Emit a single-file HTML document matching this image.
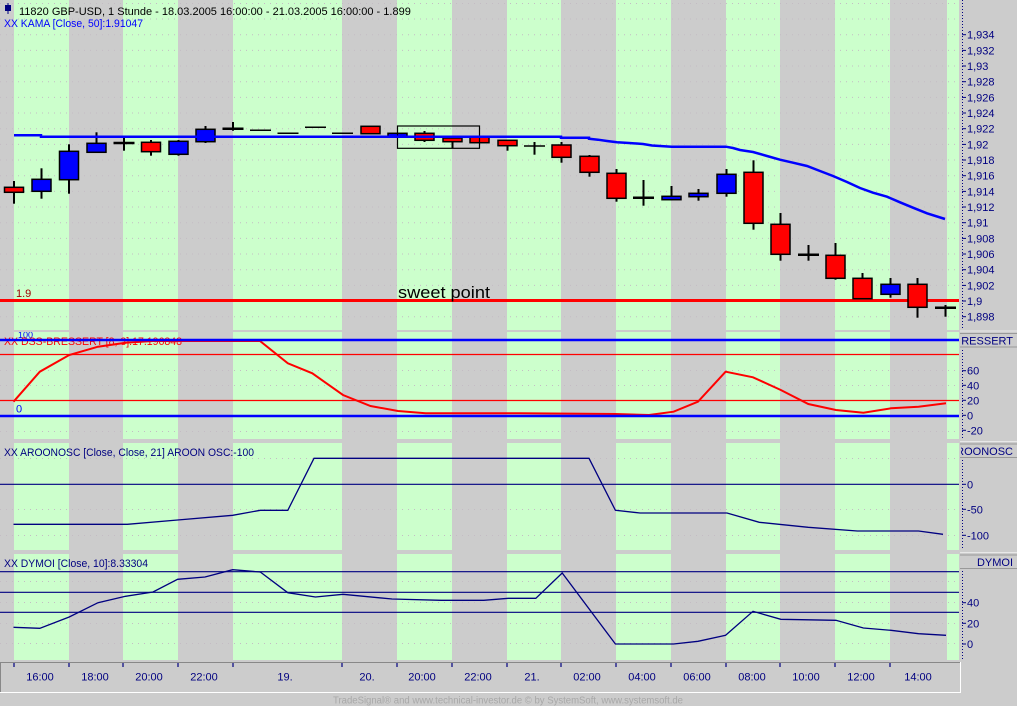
<!DOCTYPE html>
<html><head><meta charset="utf-8"><style>
html,body{margin:0;padding:0;background:#cccccc;}
svg{display:block;font-family:"Liberation Sans",Arial,sans-serif;}
</style></head><body>
<svg width="1017" height="706" viewBox="0 0 1017 706" xmlns="http://www.w3.org/2000/svg">
<defs>
<clipPath id="cMain"><rect x="0" y="0" width="959" height="330"/></clipPath>
<clipPath id="cP2"><rect x="0" y="332" width="959" height="107"/></clipPath>
<clipPath id="cP3"><rect x="0" y="443" width="959" height="107"/></clipPath>
<clipPath id="cP4"><rect x="0" y="554" width="959" height="106"/></clipPath>
<clipPath id="cRA"><rect x="961" y="0" width="56" height="706"/></clipPath>
</defs>
<rect x="0" y="0" width="1017" height="706" fill="#cccccc"/>

<!-- green bands -->
<g fill="#ccffcc">
<g id="bandsMain">
<rect x="14" y="0" width="55" height="330"/><rect x="123" y="0" width="55" height="330"/>
<rect x="233" y="0" width="109" height="330"/><rect x="397" y="0" width="55" height="330"/>
<rect x="507" y="0" width="54" height="330"/><rect x="616" y="0" width="55" height="330"/>
<rect x="726" y="0" width="54" height="330"/><rect x="835" y="0" width="55" height="330"/>
<rect x="947" y="0" width="12" height="330"/>
</g>
<g transform="translate(0,332)">
<rect x="14" y="0" width="55" height="107"/><rect x="123" y="0" width="55" height="107"/>
<rect x="233" y="0" width="109" height="107"/><rect x="397" y="0" width="55" height="107"/>
<rect x="507" y="0" width="54" height="107"/><rect x="616" y="0" width="55" height="107"/>
<rect x="726" y="0" width="54" height="107"/><rect x="835" y="0" width="55" height="107"/>
<rect x="947" y="0" width="12" height="107"/>
</g>
<g transform="translate(0,443)">
<rect x="14" y="0" width="55" height="107"/><rect x="123" y="0" width="55" height="107"/>
<rect x="233" y="0" width="109" height="107"/><rect x="397" y="0" width="55" height="107"/>
<rect x="507" y="0" width="54" height="107"/><rect x="616" y="0" width="55" height="107"/>
<rect x="726" y="0" width="54" height="107"/><rect x="835" y="0" width="55" height="107"/>
<rect x="947" y="0" width="12" height="107"/>
</g>
<g transform="translate(0,554)">
<rect x="14" y="0" width="55" height="106"/><rect x="123" y="0" width="55" height="106"/>
<rect x="233" y="0" width="109" height="106"/><rect x="397" y="0" width="55" height="106"/>
<rect x="507" y="0" width="54" height="106"/><rect x="616" y="0" width="55" height="106"/>
<rect x="726" y="0" width="54" height="106"/><rect x="835" y="0" width="55" height="106"/>
<rect x="947" y="0" width="12" height="106"/>
</g>
</g>

<!-- dotted grid -->
<g stroke="#c4bcc4" stroke-width="1" stroke-dasharray="1 5">
<line x1="0" y1="3.5" x2="959" y2="3.5"/><line x1="0" y1="19" x2="959" y2="19"/>
<line x1="0" y1="34.7" x2="959" y2="34.7"/><line x1="0" y1="50.4" x2="959" y2="50.4"/>
<line x1="0" y1="66" x2="959" y2="66"/><line x1="0" y1="81.7" x2="959" y2="81.7"/>
<line x1="0" y1="97.4" x2="959" y2="97.4"/><line x1="0" y1="113" x2="959" y2="113"/>
<line x1="0" y1="128.7" x2="959" y2="128.7"/><line x1="0" y1="144.4" x2="959" y2="144.4"/>
<line x1="0" y1="160" x2="959" y2="160"/><line x1="0" y1="175.7" x2="959" y2="175.7"/>
<line x1="0" y1="191.4" x2="959" y2="191.4"/><line x1="0" y1="207" x2="959" y2="207"/>
<line x1="0" y1="222.7" x2="959" y2="222.7"/><line x1="0" y1="238.4" x2="959" y2="238.4"/>
<line x1="0" y1="254" x2="959" y2="254"/><line x1="0" y1="269.7" x2="959" y2="269.7"/>
<line x1="0" y1="285.4" x2="959" y2="285.4"/><line x1="0" y1="316.7" x2="959" y2="316.7"/>
<line x1="0" y1="370.5" x2="959" y2="370.5"/><line x1="0" y1="385.5" x2="959" y2="385.5"/>
<line x1="0" y1="431.5" x2="959" y2="431.5"/>
<line x1="0" y1="458.5" x2="959" y2="458.5"/><line x1="0" y1="509.5" x2="959" y2="509.5"/>
<line x1="0" y1="535.5" x2="959" y2="535.5"/>
<line x1="0" y1="581.5" x2="959" y2="581.5"/><line x1="0" y1="602.5" x2="959" y2="602.5"/>
<line x1="0" y1="623.5" x2="959" y2="623.5"/><line x1="0" y1="643.5" x2="959" y2="643.5"/>
</g>

<!-- MAIN PANEL -->
<g clip-path="url(#cMain)">
<line x1="0" y1="300.5" x2="959" y2="300.5" stroke="#ff0000" stroke-width="3"/>
<text x="16" y="297" font-size="11" fill="#a00000">1.9</text>
<text x="398" y="298" font-size="17" fill="#000" textLength="92" lengthAdjust="spacingAndGlyphs">sweet point</text>

<!-- candles -->
<g stroke="#000">
<!-- wicks -->
<g stroke-width="2">
<line x1="14" y1="181" x2="14" y2="203.7"/>
<line x1="41.5" y1="168.3" x2="41.5" y2="198.7"/>
<line x1="69" y1="144.3" x2="69" y2="193.7"/>
<line x1="96.5" y1="132.3" x2="96.5" y2="152.3"/>
<line x1="124" y1="137.7" x2="124" y2="150.7"/>
<line x1="151" y1="140" x2="151" y2="155.7"/>
<line x1="178.5" y1="140" x2="178.5" y2="155.7"/>
<line x1="205.5" y1="126" x2="205.5" y2="143"/>
<line x1="233" y1="122" x2="233" y2="130.7"/>
<line x1="424.5" y1="131" x2="424.5" y2="142"/>
<line x1="452.5" y1="138" x2="452.5" y2="148"/>
<line x1="507.5" y1="140.3" x2="507.5" y2="150.7"/>
<line x1="534.5" y1="142" x2="534.5" y2="154.7"/>
<line x1="561.5" y1="142" x2="561.5" y2="162.7"/>
<line x1="589.5" y1="155" x2="589.5" y2="176.7"/>
<line x1="616.5" y1="169" x2="616.5" y2="201.7"/>
<line x1="643.5" y1="180" x2="643.5" y2="205.7"/>
<line x1="671.5" y1="186" x2="671.5" y2="200.3"/>
<line x1="698.5" y1="189" x2="698.5" y2="200.7"/>
<line x1="726.5" y1="169" x2="726.5" y2="196.7"/>
<line x1="753.5" y1="160.3" x2="753.5" y2="229.7"/>
<line x1="780.5" y1="213" x2="780.5" y2="260.7"/>
<line x1="808.5" y1="245" x2="808.5" y2="260.7"/>
<line x1="835.5" y1="243" x2="835.5" y2="279.7"/>
<line x1="862.5" y1="273" x2="862.5" y2="298.7"/>
<line x1="890.5" y1="278" x2="890.5" y2="297.7"/>
<line x1="917.5" y1="278" x2="917.5" y2="317.7"/>
<line x1="945.5" y1="305" x2="945.5" y2="316.7"/>
</g>
<!-- bodies -->
<g stroke-width="1.5">
<rect x="4.5" y="187.3" width="19" height="5" fill="#ff0000"/>
<rect x="32" y="179.3" width="19" height="12" fill="#0000ff"/>
<rect x="59.5" y="151.3" width="19" height="28.4" fill="#0000ff"/>
<rect x="87" y="143.3" width="19" height="9" fill="#0000ff"/>
<rect x="141.5" y="142.3" width="19" height="9.4" fill="#ff0000"/>
<rect x="169" y="141.3" width="19" height="13" fill="#0000ff"/>
<rect x="196" y="129.3" width="19" height="12.4" fill="#0000ff"/>
<rect x="361" y="126.3" width="19" height="7.4" fill="#ff0000"/>
<rect x="388" y="133.3" width="19" height="3.4" fill="#0000ff"/>
<rect x="415" y="133.3" width="19" height="7" fill="#ff0000"/>
<rect x="443" y="138" width="19" height="3.7" fill="#ff0000"/>
<rect x="470" y="137" width="19" height="5.7" fill="#ff0000"/>
<rect x="498" y="140.3" width="19" height="5.4" fill="#ff0000"/>
<rect x="552" y="145" width="19" height="12.3" fill="#ff0000"/>
<rect x="580" y="156.3" width="19" height="16" fill="#ff0000"/>
<rect x="607" y="173.3" width="19" height="25" fill="#ff0000"/>
<rect x="662" y="196.3" width="19" height="3.4" fill="#0000ff"/>
<rect x="689" y="193.3" width="19" height="3.4" fill="#0000ff"/>
<rect x="717" y="174.3" width="19" height="19" fill="#0000ff"/>
<rect x="744" y="172.3" width="19" height="51" fill="#ff0000"/>
<rect x="771" y="224.3" width="19" height="30" fill="#ff0000"/>
<rect x="826" y="255.3" width="19" height="23" fill="#ff0000"/>
<rect x="853" y="278.3" width="19" height="20.4" fill="#ff0000"/>
<rect x="881" y="284.3" width="19" height="10" fill="#0000ff"/>
<rect x="908" y="284.3" width="19" height="23" fill="#ff0000"/>
</g>
<!-- dojis thick -->
<g stroke-width="2.5">
<line x1="113.5" y1="143" x2="134.5" y2="143"/>
<line x1="222.5" y1="128.7" x2="243.5" y2="128.7"/>
<line x1="633" y1="197.7" x2="654" y2="197.7"/>
<line x1="798" y1="254.7" x2="819" y2="254.7"/>
<line x1="935" y1="307.7" x2="956" y2="307.7"/>
</g>
<g stroke-width="1.5">
<line x1="524" y1="146" x2="545" y2="146"/>
<line x1="250" y1="130.3" x2="271" y2="130.3"/>
<line x1="277.5" y1="133.3" x2="298.5" y2="133.3"/>
<line x1="305" y1="127.3" x2="326" y2="127.3"/>
<line x1="332" y1="133.3" x2="353" y2="133.3"/>
</g>
<rect x="397.5" y="126" width="82" height="22.3" fill="none" stroke-width="1.2"/>
</g>

<!-- KAMA -->
<polyline fill="none" stroke="#0000ff" stroke-width="2.5" points="14,135.3 41,135.3 41,136.7 561,136.7 561,137.7 589,137.7 589,138.7 598,139.7 607,141 617,142.3 629,143 643,144 652,145.5 671.7,146.7 726,146.7 733,148 740,150 753,152 767,156 780,159.7 793,162.7 807,166 820,171 833,176 847,182 860,188 873,192.7 887,196.7 900,202.3 913,207.7 927,213.3 945,219"/>

<!-- header -->
<rect x="5" y="5" width="6" height="6" fill="#000080"/>
<line x1="8" y1="3" x2="8" y2="14" stroke="#000080" stroke-width="1"/>
<text x="19" y="15" font-size="11" fill="#000">11820  GBP-USD, 1 Stunde - 18.03.2005 16:00:00 - 21.03.2005 16:00:00 - 1.899</text>
<text x="4" y="27" font-size="11" fill="#0000ff" textLength="139" lengthAdjust="spacingAndGlyphs">XX KAMA [Close, 50]:1.91047</text>
</g>

<!-- PANEL 2 DSS -->
<g clip-path="url(#cP2)">
<text x="18" y="338" font-size="9" fill="#0000ff">100</text>
<text x="4" y="345" font-size="11" fill="#ff0000" textLength="178" lengthAdjust="spacingAndGlyphs">XX DSS-BRESSERT [8, 3]:17.196848</text>
<line x1="0" y1="354.5" x2="959" y2="354.5" stroke="#ff0000" stroke-width="1.2"/>
<line x1="0" y1="400.5" x2="959" y2="400.5" stroke="#ff0000" stroke-width="1.2"/>
<text x="16" y="412.5" font-size="11" fill="#0000ff">0</text>
<polyline fill="none" stroke="#ff0000" stroke-width="2" points="13.5,401.7 39.8,371.7 69.2,355 98,346.7 125.5,342.7 153,341 205,341 260,341 287.8,363.3 312.3,373.3 343,395 370.5,406 398,411 425.6,413.3 453,413.3 520.5,413.3 615.4,414 649,415 673.6,411.7 698,401.7 725.6,371.7 753,377.3 780.8,390 808.3,404 835.9,410 863.4,412.7 891,408.3 918.5,406.7 946,403.3"/>
<line x1="0" y1="340" x2="959" y2="340" stroke="#0000ff" stroke-width="2.5"/>
<line x1="0" y1="416" x2="959" y2="416" stroke="#0000ff" stroke-width="2.5"/>
</g>

<!-- PANEL 3 AROON -->
<g clip-path="url(#cP3)">
<text x="4" y="456" font-size="11" fill="#000080" textLength="250" lengthAdjust="spacingAndGlyphs">XX AROONOSC [Close, Close, 21] AROON OSC:-100</text>
<line x1="0" y1="484.3" x2="959" y2="484.3" stroke="#000080" stroke-width="1.2"/>
<polyline fill="none" stroke="#000080" stroke-width="1.3" points="13.5,524.3 127.4,524.3 177.6,520 232.7,515.3 260.3,510.3 287.8,510.3 314,458.3 589,458.3 615.4,510.3 640,513 727,513 759.3,522.3 808.3,527.3 857.3,531 918.5,531 943,534.3"/>
</g>

<!-- PANEL 4 DYMOI -->
<g clip-path="url(#cP4)">
<text x="4" y="567" font-size="11" fill="#000080" textLength="144" lengthAdjust="spacingAndGlyphs">XX DYMOI [Close, 10]:8.33304</text>
<line x1="0" y1="571.7" x2="959" y2="571.7" stroke="#000080" stroke-width="1.2"/>
<line x1="0" y1="592.3" x2="959" y2="592.3" stroke="#000080" stroke-width="1.2"/>
<line x1="0" y1="612.3" x2="959" y2="612.3" stroke="#000080" stroke-width="1.2"/>
<polyline fill="none" stroke="#000080" stroke-width="1.3" points="13.5,627.3 39.8,628.3 69.2,617 98,602.7 125.5,596.3 153,592 177.6,579.3 205,577 232.7,569.7 260.3,572 287.8,592.7 315.4,597 343,594.3 392,599 441,600.3 483.8,600.3 508.3,598.3 535.8,598.3 562.2,573 615.4,644 673.6,644 698,641.3 725.6,635.3 753,611.3 780.8,619.3 835.9,620.3 863.4,628 891,630.3 918.5,633.7 946,635.3"/>
</g>

<!-- RIGHT AXIS -->
<g stroke="#000080" stroke-width="1" stroke-dasharray="1 2">
<line x1="962.5" y1="0" x2="962.5" y2="330"/>
<line x1="962.5" y1="350" x2="962.5" y2="439"/>
<line x1="962.5" y1="460" x2="962.5" y2="550"/>
<line x1="962.5" y1="571" x2="962.5" y2="660"/>
</g>
<g stroke="#e8e8e8" stroke-width="1">
<line x1="960" y1="331" x2="1017" y2="331"/>
<line x1="960" y1="441.5" x2="1017" y2="441.5"/>
<line x1="960" y1="552.5" x2="1017" y2="552.5"/>
</g>
<g stroke="#999" stroke-width="1">
<line x1="960" y1="333.5" x2="1017" y2="333.5"/><line x1="960" y1="347" x2="1017" y2="347"/>
<line x1="960" y1="444" x2="1017" y2="444"/><line x1="960" y1="457.5" x2="1017" y2="457.5"/>
<line x1="960" y1="555" x2="1017" y2="555"/><line x1="960" y1="568.5" x2="1017" y2="568.5"/>
</g>
<g clip-path="url(#cRA)" font-size="11" fill="#000080">
<text x="1013" y="344.5" text-anchor="end">DSS-BRESSERT</text>
<text x="1013" y="455" text-anchor="end">AROONOSC</text>
<text x="1013" y="566" text-anchor="end">DYMOI</text>
</g>
<g font-size="11" fill="#000080">
<g stroke="#000080" stroke-width="1">
<line x1="962" y1="34.7" x2="966" y2="34.7"/><line x1="962" y1="50.4" x2="966" y2="50.4"/>
<line x1="962" y1="66" x2="966" y2="66"/><line x1="962" y1="81.7" x2="966" y2="81.7"/>
<line x1="962" y1="97.4" x2="966" y2="97.4"/><line x1="962" y1="113" x2="966" y2="113"/>
<line x1="962" y1="128.7" x2="966" y2="128.7"/><line x1="962" y1="144.4" x2="966" y2="144.4"/>
<line x1="962" y1="160" x2="966" y2="160"/><line x1="962" y1="175.7" x2="966" y2="175.7"/>
<line x1="962" y1="191.4" x2="966" y2="191.4"/><line x1="962" y1="207" x2="966" y2="207"/>
<line x1="962" y1="222.7" x2="966" y2="222.7"/><line x1="962" y1="238.4" x2="966" y2="238.4"/>
<line x1="962" y1="254" x2="966" y2="254"/><line x1="962" y1="269.7" x2="966" y2="269.7"/>
<line x1="962" y1="285.4" x2="966" y2="285.4"/><line x1="962" y1="301" x2="966" y2="301"/>
<line x1="962" y1="316.7" x2="966" y2="316.7"/>
<line x1="962" y1="370.7" x2="966" y2="370.7"/><line x1="962" y1="385.3" x2="966" y2="385.3"/>
<line x1="962" y1="400.3" x2="966" y2="400.3"/><line x1="962" y1="415.3" x2="966" y2="415.3"/>
<line x1="962" y1="430.3" x2="966" y2="430.3"/>
<line x1="962" y1="484.3" x2="966" y2="484.3"/><line x1="962" y1="509.3" x2="966" y2="509.3"/>
<line x1="962" y1="535.3" x2="966" y2="535.3"/>
<line x1="962" y1="602.7" x2="966" y2="602.7"/><line x1="962" y1="623.3" x2="966" y2="623.3"/>
<line x1="962" y1="644" x2="966" y2="644"/>
</g>
<text x="967" y="38.7">1,934</text><text x="967" y="54.4">1,932</text>
<text x="967" y="70">1,93</text><text x="967" y="85.7">1,928</text>
<text x="967" y="101.4">1,926</text><text x="967" y="117">1,924</text>
<text x="967" y="132.7">1,922</text><text x="967" y="148.4">1,92</text>
<text x="967" y="164">1,918</text><text x="967" y="179.7">1,916</text>
<text x="967" y="195.4">1,914</text><text x="967" y="211">1,912</text>
<text x="967" y="226.7">1,91</text><text x="967" y="242.4">1,908</text>
<text x="967" y="258">1,906</text><text x="967" y="273.7">1,904</text>
<text x="967" y="289.4">1,902</text><text x="967" y="305">1,9</text>
<text x="967" y="320.7">1,898</text>
<text x="967" y="374.7">60</text><text x="967" y="389.3">40</text>
<text x="967" y="404.3">20</text><text x="967" y="419.3">0</text>
<text x="967" y="434.3">-20</text>
<text x="967" y="488.3">0</text><text x="967" y="513.3">-50</text>
<text x="967" y="539.3">-100</text>
<text x="967" y="606.7">40</text><text x="967" y="627.3">20</text>
<text x="967" y="648">0</text>
</g>

<!-- BOTTOM AXIS -->
<line x1="0" y1="662.5" x2="960" y2="662.5" stroke="#888" stroke-width="1"/>
<line x1="0.5" y1="662" x2="0.5" y2="692" stroke="#888" stroke-width="1"/>
<line x1="0" y1="692.5" x2="961" y2="692.5" stroke="#ffffff" stroke-width="1"/>
<line x1="960.5" y1="662" x2="960.5" y2="693" stroke="#ffffff" stroke-width="1"/>
<g stroke="#000080" stroke-width="1.2">
<line x1="14" y1="663" x2="14" y2="667"/><line x1="69" y1="663" x2="69" y2="667"/>
<line x1="123" y1="663" x2="123" y2="667"/><line x1="178" y1="663" x2="178" y2="667"/>
<line x1="233" y1="663" x2="233" y2="667"/><line x1="342" y1="663" x2="342" y2="667"/>
<line x1="397" y1="663" x2="397" y2="667"/><line x1="452" y1="663" x2="452" y2="667"/>
<line x1="507" y1="663" x2="507" y2="667"/><line x1="561" y1="663" x2="561" y2="667"/>
<line x1="616" y1="663" x2="616" y2="667"/><line x1="671" y1="663" x2="671" y2="667"/>
<line x1="726" y1="663" x2="726" y2="667"/><line x1="780" y1="663" x2="780" y2="667"/>
<line x1="835" y1="663" x2="835" y2="667"/><line x1="890" y1="663" x2="890" y2="667"/>
</g>
<g font-size="11" fill="#000080" text-anchor="middle">
<text x="40" y="680.5">16:00</text><text x="95" y="680.5">18:00</text>
<text x="149" y="680.5">20:00</text><text x="204" y="680.5">22:00</text>
<text x="285" y="680.5">19.</text><text x="367" y="680.5">20.</text>
<text x="422" y="680.5">20:00</text><text x="478" y="680.5">22:00</text>
<text x="532" y="680.5">21.</text><text x="587" y="680.5">02:00</text>
<text x="642" y="680.5">04:00</text><text x="697" y="680.5">06:00</text>
<text x="752" y="680.5">08:00</text><text x="806" y="680.5">10:00</text>
<text x="861" y="680.5">12:00</text><text x="918" y="680.5">14:00</text>
</g>
<text x="333" y="703.5" font-size="10" fill="#a8a8a8" textLength="350" lengthAdjust="spacingAndGlyphs">TradeSignal® and www.technical-investor.de © by  SystemSoft, www.systemsoft.de</text>
</svg>
</body></html>
